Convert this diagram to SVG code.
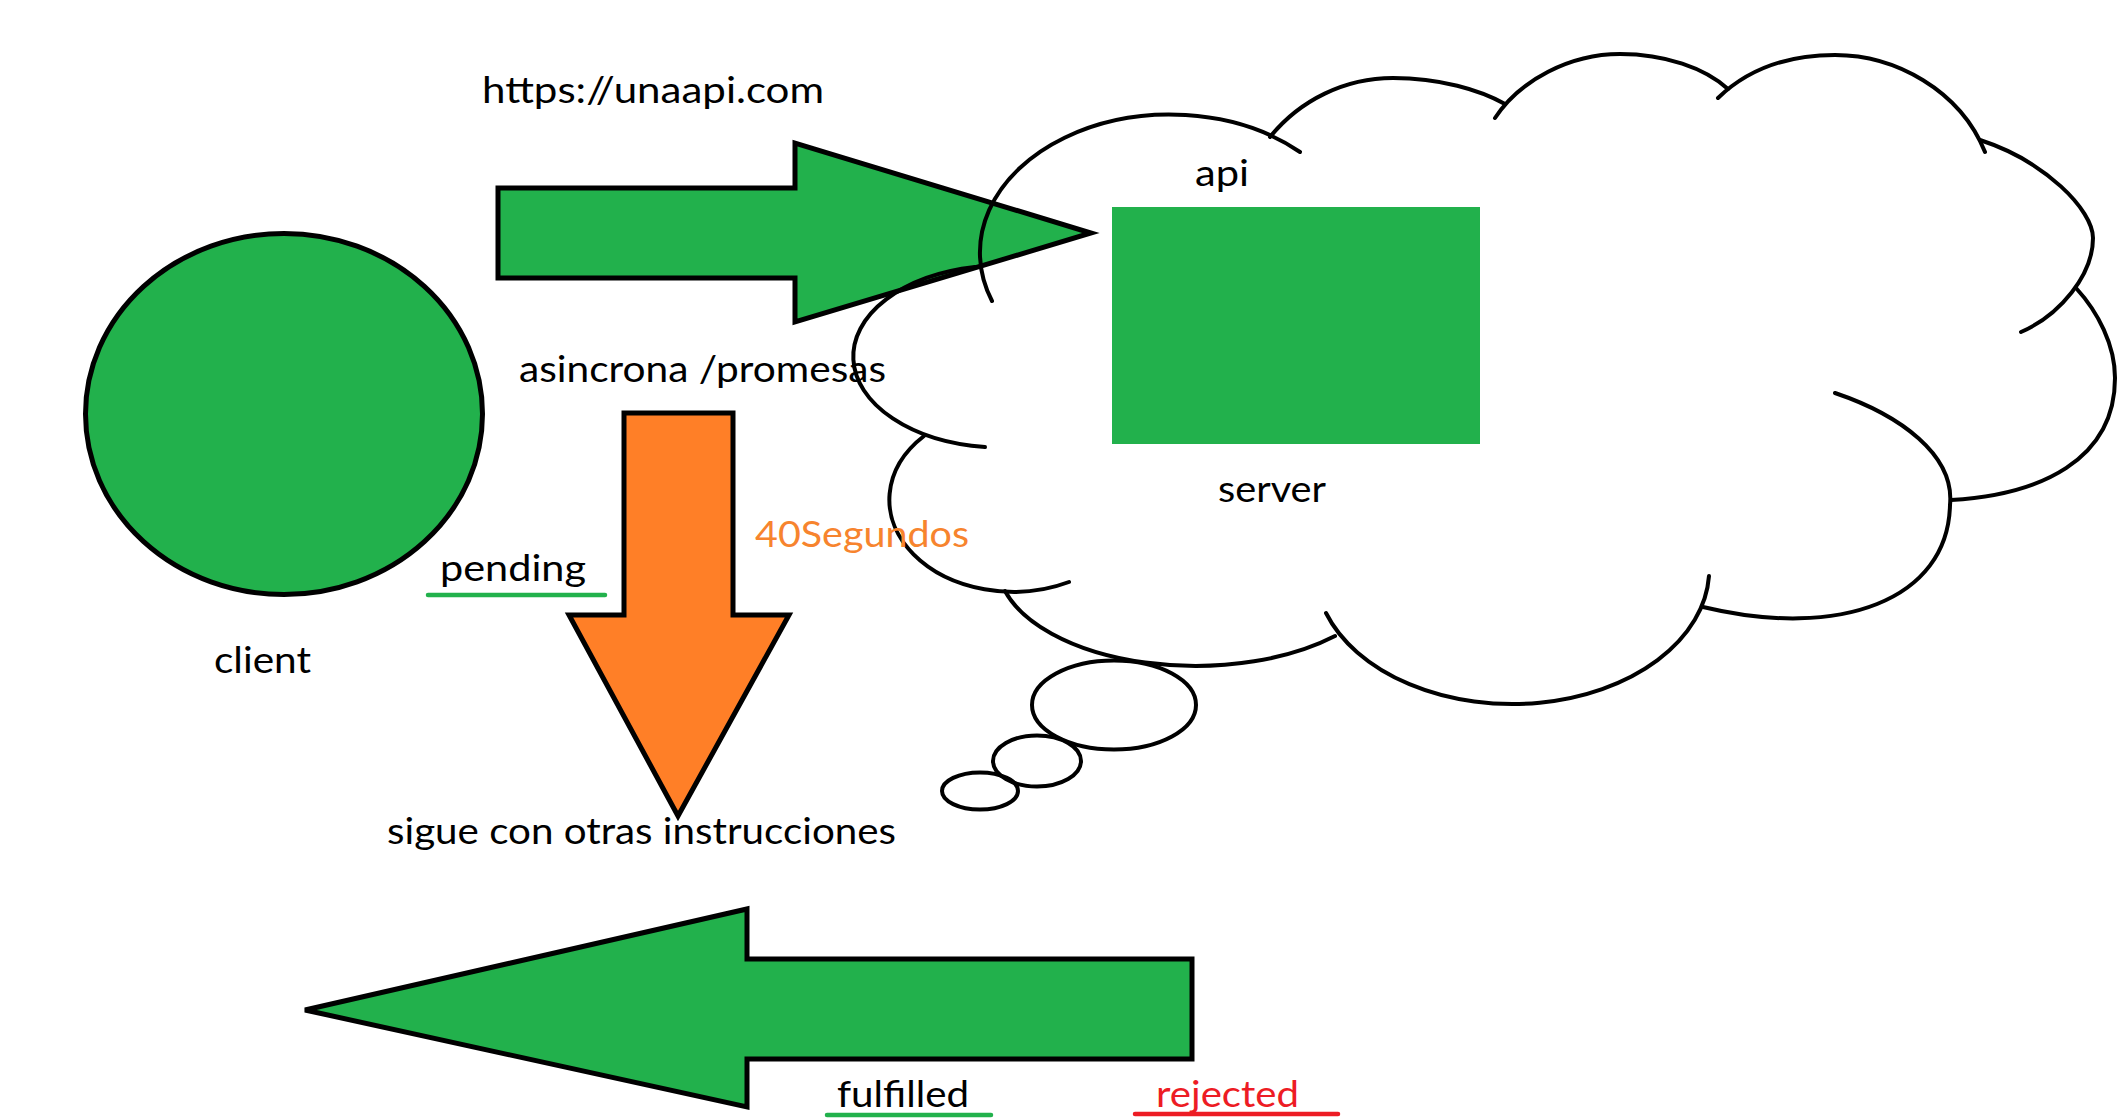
<svg xmlns="http://www.w3.org/2000/svg" width="2128" height="1119" viewBox="0 0 2128 1119">
<style>
  .lbl { font-family: Lato, "Noto Sans", "Liberation Sans", sans-serif; font-size: 36px; fill: #000; }
  .orange { fill: #F7842E; }
  .red { fill: #ED1C24; }
  .cloud { fill: none; stroke: #000; stroke-width: 4; stroke-linecap: round; }
  .shape { stroke: #000; stroke-width: 5; stroke-linejoin: miter; }
  .green { fill: #22B14C; }
  .orangeFill { fill: #FF7F27; }
  .uline { stroke-width: 4.5; stroke-linecap: round; fill: none; }
</style>
<rect x="0" y="0" width="2128" height="1119" fill="#FFFFFF"/>

<g id="client">
  <ellipse cx="284" cy="414" rx="198.5" ry="180.5" class="shape green" stroke-width="4.5"/>
  <text class="lbl" x="214" y="673" textLength="97" lengthAdjust="spacingAndGlyphs">client</text>
</g>

<g id="connectors">
  <polygon class="shape green" points="498,188 795,188 795,143 1091,233 795,322 795,278 498,278"/>
  <polygon class="shape orangeFill" points="624,413 733,413 733,615 789,615 678,816 569,615 624,615"/>
  <polygon class="shape green" points="305,1010 747,909 747,959 1192,959 1192,1059 747,1059 747,1107"/>
</g>

<g id="server">
  <rect x="1112" y="207" width="368" height="237" class="green"/>
  <text class="lbl" x="1195" y="186" textLength="54" lengthAdjust="spacingAndGlyphs">api</text>
  <text class="lbl" x="1218" y="502" textLength="108" lengthAdjust="spacingAndGlyphs">server</text>
</g>

<g id="cloud">
  <path class="cloud" d="M 992 301 A 190 138 0 0 1 1300 152"/>
  <path class="cloud" d="M 975 267 A 148 91 0 0 0 985 447"/>
  <path class="cloud" d="M 924 436 A 124 92 0 0 0 1069 582"/>
  <path class="cloud" d="M 1005 591 A 198 103 0 0 0 1335 636"/>
  <path class="cloud" d="M 1326 613 A 197 135 0 0 0 1709 576"/>
  <path class="cloud" d="M 1835 393 C 1900 415, 1955 455, 1950 505 C 1948 600, 1840 640, 1703 607"/>
  <path class="cloud" d="M 2076 288 C 2098 312, 2115 345, 2115 378 C 2115 460, 2040 495, 1951 500"/>
  <path class="cloud" d="M 1980 140 C 2045 161, 2093 210, 2093 238 C 2093 275, 2060 315, 2021 332"/>
  <path class="cloud" d="M 1718 98 C 1750 67, 1790 55, 1835 55 C 1895 55, 1960 90, 1985 152"/>
  <path class="cloud" d="M 1495 118 C 1520 80, 1570 54, 1620 54 C 1665 54, 1705 68, 1728 89"/>
  <path class="cloud" d="M 1270 137 C 1300 100, 1345 78, 1393 78 C 1440 78, 1480 90, 1505 104"/>
</g>

<g id="thought-bubbles">
  <ellipse class="cloud" cx="1114" cy="705" rx="82" ry="44.5"/>
  <ellipse class="cloud" cx="1037" cy="761" rx="44" ry="25.5"/>
  <ellipse class="cloud" cx="980" cy="791" rx="38" ry="18.5"/>
</g>

<g id="labels">
  <text class="lbl" x="482" y="103" textLength="342" lengthAdjust="spacingAndGlyphs">https://unaapi.com</text>
  <text class="lbl" x="519" y="382" textLength="367" lengthAdjust="spacingAndGlyphs">asincrona /promesas</text>
  <text class="lbl orange" x="755" y="547" textLength="214" lengthAdjust="spacingAndGlyphs">40Segundos</text>
  <text class="lbl" x="387" y="844" textLength="509" lengthAdjust="spacingAndGlyphs">sigue con otras instrucciones</text>
</g>

<g id="pending">
  <text class="lbl" x="440" y="581" textLength="146" lengthAdjust="spacingAndGlyphs">pending</text>
  <line class="uline" x1="428" y1="595" x2="605" y2="595" stroke="#22B14C"/>
</g>

<g id="fulfilled">
  <text class="lbl" x="837" y="1107" textLength="132" lengthAdjust="spacingAndGlyphs">fulfilled</text>
  <line class="uline" x1="827" y1="1115" x2="991" y2="1115" stroke="#22B14C"/>
</g>

<g id="rejected">
  <text class="lbl red" x="1156" y="1107" textLength="143" lengthAdjust="spacingAndGlyphs">rejected</text>
  <line class="uline" x1="1135" y1="1114" x2="1338" y2="1114" stroke="#ED1C24"/>
</g>
</svg>
